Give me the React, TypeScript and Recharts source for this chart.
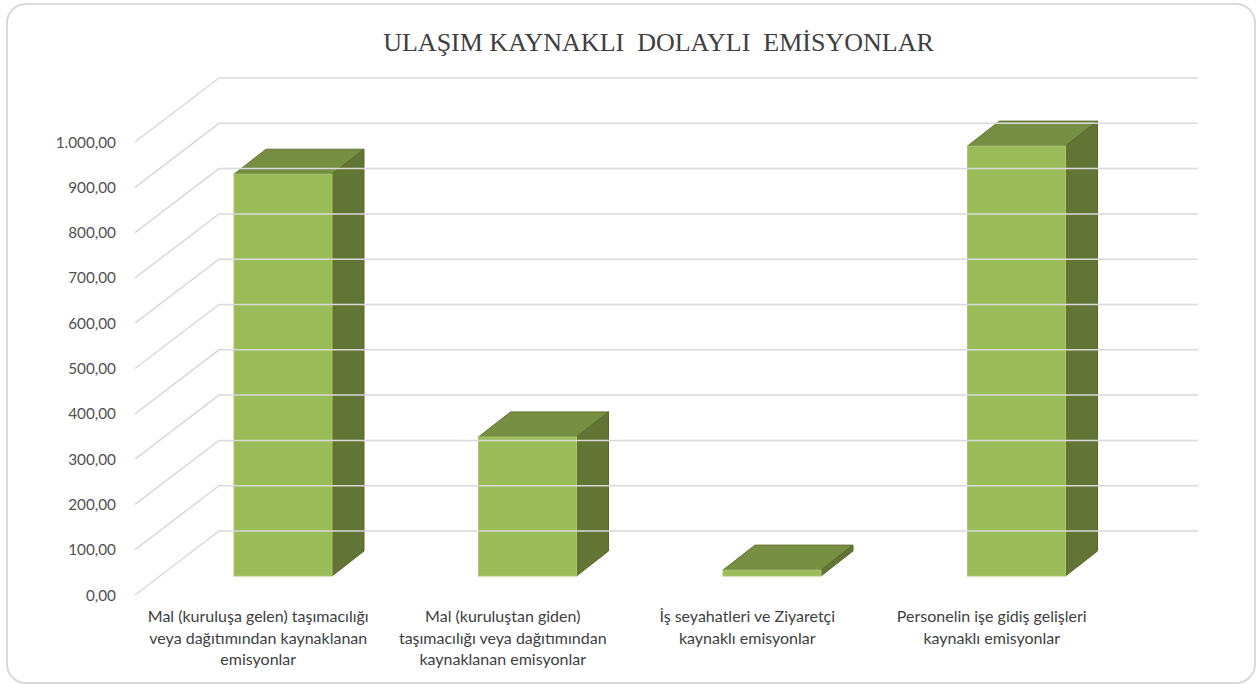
import React from "react";
import { BarChart, Bar, XAxis, YAxis } from "recharts";

const titleText = "ULAŞIM KAYNAKLI  DOLAYLI  EMİSYONLAR";
const categoryLines = [
  ["Mal (kuruluşa gelen) taşımacılığı", "veya dağıtımından kaynaklanan", "emisyonlar"],
  ["Mal (kuruluştan giden)", "taşımacılığı veya dağıtımından", "kaynaklanan emisyonlar"],
  ["İş seyahatleri ve Ziyaretçi", "kaynaklı emisyonlar"],
  ["Personelin işe gidiş gelişleri", "kaynaklı emisyonlar"],
];
const categories = categoryLines.map((l) => l.join(" "));
const values = [887, 307, 13, 949];
const yTicks = [0, 100, 200, 300, 400, 500, 600, 700, 800, 900, 1000];
const yTickLabels = ["0,00", "100,00", "200,00", "300,00", "400,00", "500,00", "600,00", "700,00", "800,00", "900,00", "1.000,00"];

const data = categories.map((name, i) => ({ name, value: values[i] }));

const FONT = "Lato, 'Open Sans', sans-serif";
const DX = 32;
const DY = 25;

function YTick(props: any) {
  const { y, payload } = props;
  const label = yTickLabels[yTicks.indexOf(payload.value)];
  const backY = y - 45;
  const frontY = y + 19;
  return (
    <g>
      <polyline
        points={`135,${frontY} 219,${backY} 1198,${backY}`}
        fill="none"
        stroke="#d9d9d9"
        strokeWidth={1.5}
      />
      <text x={116} y={frontY} dy={5.5} textAnchor="end" fontFamily={FONT} fontSize={15.3} fill="#505050">
        {label}
      </text>
    </g>
  );
}

function XTick(props: any) {
  const { x, payload } = props;
  const lines = categoryLines[categories.indexOf(payload.value)] || [];
  return (
    <text textAnchor="middle" fontFamily={FONT} fontSize={16} fill="#404040">
      {lines.map((l, i) => (
        <tspan key={i} x={x - 25} y={622 + i * 21.5}>
          {l}
        </tspan>
      ))}
    </text>
  );
}

function Box3D(props: any) {
  const { x, y, width, height } = props;
  const r = x + width;
  const b = y + height;
  return (
    <g>
      <polygon
        points={`${x},${y} ${x + DX},${y - DY} ${r + DX},${y - DY} ${r},${y}`}
        fill="#778F43"
        stroke="#5F7530"
        strokeWidth={1}
      />
      <polygon
        points={`${r},${y} ${r + DX},${y - DY} ${r + DX},${b - DY} ${r},${b}`}
        fill="#637535"
        stroke="#546A2A"
        strokeWidth={1}
      />
      <rect x={x} y={y} width={width} height={height} fill="#9BBB59" stroke="#A9C66F" strokeWidth={1} />
    </g>
  );
}

export default function App() {
  return (
    <div style={{ position: "absolute", left: 0, top: 0, width: 1257, height: 684, overflow: "hidden", background: "#fff" }}>
      <div
        style={{
          position: "absolute",
          left: 6,
          top: 3,
          width: 1246,
          height: 677,
          border: "2px solid #d9d9d9",
          borderRadius: 20,
          background: "#fff",
        }}
      />
      <div
        style={{
          position: "absolute",
          left: 0,
          top: 28,
          width: 1317,
          textAlign: "center",
          fontFamily: "'Liberation Serif', serif",
          fontSize: 26,
          color: "#404040",
          whiteSpace: "pre",
        }}
      >
        {titleText}
      </div>
      <div style={{ position: "absolute", left: 0, top: 0 }}>
        <BarChart
          width={1257}
          height={684}
          data={data}
          margin={{ top: 123, right: 118, bottom: 0, left: 0 }}
          barCategoryGap={0}
        >
          <YAxis
            type="number"
            domain={[0, 1000]}
            ticks={yTicks}
            width={161}
            axisLine={false}
            tickLine={false}
            tick={<YTick />}
            interval={0}
          />
          <XAxis
            dataKey="name"
            type="category"
            height={108}
            axisLine={false}
            tickLine={false}
            tick={<XTick />}
            interval={0}
          />
          <Bar dataKey="value" barSize={98} shape={<Box3D />} isAnimationActive={false} />
        </BarChart>
      </div>
    </div>
  );
}
